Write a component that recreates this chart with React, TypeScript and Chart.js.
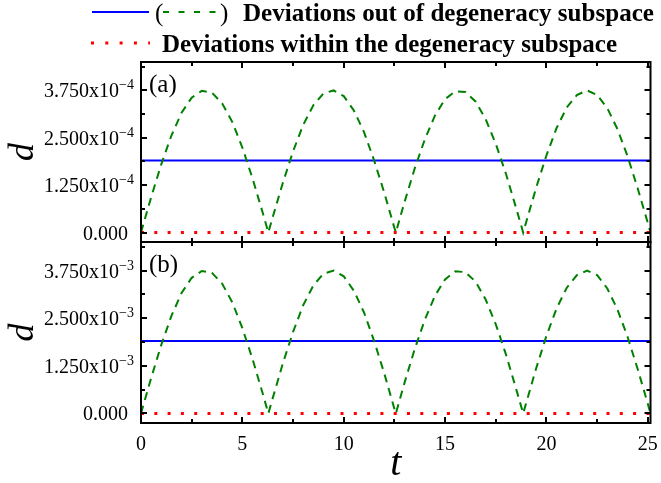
import React, { useEffect, useRef } from 'react';
import { Chart, registerables } from 'chart.js';

Chart.register(...registerables);

// time axis (one full run ends at t = 8π)
const T_END = 25.13;

// sample times for the oscillating deviation
const tValues = [
  0, 0.5, 1, 1.5, 2, 2.5, 3, 3.5, 4, 4.5, 5, 5.5, 6, 6.28,
  6.5, 7, 7.5, 8, 8.5, 9, 9.5, 10, 10.5, 11, 11.5, 12, 12.5, 12.57,
  13, 13.5, 14, 14.5, 15, 15.5, 16, 16.5, 17, 17.5, 18, 18.5, 18.85,
  19, 19.5, 20, 20.5, 21, 21.5, 22, 22.5, 23, 23.5, 24, 24.5, 25, 25.13,
];

// panel (a): deviations out of the degeneracy subspace, in units of 1e-4
const outOfSubspaceA = [
  0, 0.93, 1.8, 2.56, 3.16, 3.56, 3.74, 3.69, 3.41, 2.92, 2.24, 1.43, 0.53, 0,
  0.41, 1.32, 2.14, 2.84, 3.36, 3.67, 3.75, 3.6, 3.22, 2.65, 1.9, 1.05, 0.12, 0,
  0.81, 1.69, 2.46, 3.09, 3.52, 3.73, 3.71, 3.46, 2.99, 2.34, 1.55, 0.65, 0,
  0.28, 1.2, 2.04, 2.76, 3.3, 3.63, 3.75, 3.63, 3.28, 2.73, 2.01, 1.16, 0.25, 0,
];

// panel (b): deviations out of the degeneracy subspace, in units of 1e-3
const outOfSubspaceB = [
  0, 0.93, 1.8, 2.56, 3.16, 3.56, 3.74, 3.69, 3.41, 2.92, 2.24, 1.43, 0.53, 0,
  0.41, 1.32, 2.14, 2.84, 3.36, 3.67, 3.75, 3.6, 3.22, 2.65, 1.9, 1.05, 0.12, 0,
  0.81, 1.69, 2.46, 3.09, 3.52, 3.73, 3.71, 3.46, 2.99, 2.34, 1.55, 0.65, 0,
  0.28, 1.2, 2.04, 2.76, 3.3, 3.63, 3.75, 3.63, 3.28, 2.73, 2.01, 1.16, 0.25, 0,
];

// constant levels (same units as the panel)
const outLevelA = 1.9;
const outLevelB = 1.9;
const withinLevelA = 0;
const withinLevelB = 0;

// axis ticks
const xMajorTicks = [0, 5, 10, 15, 20, 25];
const xMinorTicks = [2.5, 7.5, 12.5, 17.5, 22.5];
const yMajorTicks = [0, 1.25, 2.5, 3.75];
const yMinorTicks = [0.625, 1.875, 3.125, 4.375];
const Y_MIN = -0.25;
const Y_MAX = 4.5;

const legendOut = 'Deviations out of degeneracy subspace';
const legendWithin = 'Deviations within the degeneracy subspace';

const SERIF = '"Liberation Serif", "Times New Roman", serif';

type PanelCfg = {
  tag: string;
  exponent: string;
  legend: boolean;
  xLabels: boolean;
};

function fmtMantissa(v: number) {
  return v.toFixed(3);
}

// draw a line of text starting at x and stretched to the given width
function fitText(ctx: CanvasRenderingContext2D, text: string, x: number, y: number, width: number) {
  const w = ctx.measureText(text).width;
  ctx.save();
  ctx.translate(x, y);
  ctx.scale(width / w, 1);
  ctx.textAlign = 'left';
  ctx.fillText(text, 0, 0);
  ctx.restore();
}

const framePlugin = {
  id: 'panelFrame',
  afterDraw(chart: any, _args: any, opts: PanelCfg) {
    const { ctx, chartArea: a, scales } = chart;
    const xs = scales.x;
    const ys = scales.y;
    ctx.save();
    ctx.strokeStyle = '#000';
    ctx.lineWidth = 2;
    ctx.strokeRect(a.left, a.top, a.right - a.left, a.bottom - a.top);

    // y ticks (inward, both sides)
    const yTick = (v: number, len: number) => {
      const py = Math.round(ys.getPixelForValue(v));
      ctx.beginPath();
      ctx.moveTo(a.left, py);
      ctx.lineTo(a.left + len, py);
      ctx.moveTo(a.right, py);
      ctx.lineTo(a.right - len, py);
      ctx.stroke();
    };
    yMajorTicks.forEach((v) => yTick(v, 6));
    yMinorTicks.forEach((v) => yTick(v, 4));

    // x ticks (inward, top and bottom)
    const xTick = (v: number, len: number) => {
      const px = Math.round(xs.getPixelForValue(v));
      ctx.beginPath();
      ctx.moveTo(px, a.bottom);
      ctx.lineTo(px, a.bottom - len);
      ctx.moveTo(px, a.top);
      ctx.lineTo(px, a.top + len);
      ctx.stroke();
    };
    xMajorTicks.forEach((v) => xTick(v, 6));
    xMinorTicks.forEach((v) => xTick(v, 4));

    // y tick labels with power-of-ten superscript
    ctx.fillStyle = '#000';
    ctx.textBaseline = 'alphabetic';
    yMajorTicks.forEach((v) => {
      const py = ys.getPixelForValue(v);
      ctx.textAlign = 'right';
      if (v === 0) {
        ctx.font = `20px ${SERIF}`;
        ctx.fillText('0.000', 128, py + 7);
      } else {
        ctx.font = `14px ${SERIF}`;
        const sup = opts.exponent;
        const supW = ctx.measureText(sup).width;
        ctx.fillText(sup, 134, py - 1);
        ctx.font = `20px ${SERIF}`;
        ctx.fillText(fmtMantissa(v) + 'x10', 134 - supW, py + 7);
      }
    });

    // y axis title
    const midY = (a.top + a.bottom) / 2;
    ctx.save();
    ctx.translate(33, midY);
    ctx.rotate(-Math.PI / 2);
    ctx.textAlign = 'center';
    ctx.font = `italic 36px ${SERIF}`;
    ctx.fillText('d', 0, 0);
    ctx.restore();

    // panel tag
    ctx.textAlign = 'left';
    ctx.font = `25px ${SERIF}`;
    ctx.fillText(opts.tag, a.left + 8, a.top + 30);

    if (opts.xLabels) {
      ctx.textAlign = 'center';
      ctx.font = `20px ${SERIF}`;
      xMajorTicks.forEach((v) => {
        ctx.fillText(String(v), xs.getPixelForValue(v), a.bottom + 27);
      });
      ctx.font = `italic 40px ${SERIF}`;
      ctx.fillText('t', (a.left + a.right) / 2, a.bottom + 52);
    }

    if (opts.legend) {
      ctx.lineWidth = 2;
      ctx.strokeStyle = '#0000ff';
      ctx.beginPath();
      ctx.moveTo(92, 12);
      ctx.lineTo(149, 12);
      ctx.stroke();

      ctx.textAlign = 'left';
      ctx.font = `25px ${SERIF}`;
      ctx.fillText('(', 155, 21);
      ctx.fillText(')', 220, 21);

      ctx.strokeStyle = '#008000';
      ctx.setLineDash([6, 9.5]);
      ctx.beginPath();
      ctx.moveTo(163, 12);
      ctx.lineTo(219, 12);
      ctx.stroke();

      ctx.strokeStyle = '#ff0000';
      ctx.lineWidth = 3;
      ctx.setLineDash([3, 11.3]);
      ctx.beginPath();
      ctx.moveTo(91, 43);
      ctx.lineTo(150, 43);
      ctx.stroke();
      ctx.setLineDash([]);

      ctx.font = `bold 25px ${SERIF}`;
      fitText(ctx, legendOut, 243, 21, 411);
      fitText(ctx, legendWithin, 162, 52, 455);
    }
    ctx.restore();
  },
};

function buildConfig(
  curve: number[],
  level: number,
  within: number,
  padTop: number,
  padBottom: number,
  panel: PanelCfg
): any {
  return {
    type: 'line',
    data: {
      datasets: [
        {
          data: tValues.map((t, i) => ({ x: t, y: curve[i] })),
          borderColor: '#008000',
          borderWidth: 2,
          borderDash: [8, 6],
          pointRadius: 0,
          tension: 0,
          fill: false,
        },
        {
          data: [
            { x: 0, y: level },
            { x: T_END, y: level },
          ],
          borderColor: '#0000ff',
          borderWidth: 2,
          pointRadius: 0,
          fill: false,
        },
        {
          data: [
            { x: 0, y: within },
            { x: T_END, y: within },
          ],
          borderColor: '#ff0000',
          borderWidth: 3,
          borderDash: [3, 10.3],
          pointRadius: 0,
          fill: false,
        },
      ],
    },
    options: {
      animation: false,
      responsive: false,
      events: [],
      layout: { padding: { left: 141, right: 10.5, top: padTop, bottom: padBottom } },
      scales: {
        x: { type: 'linear', min: 0, max: T_END, display: false },
        y: { type: 'linear', min: Y_MIN, max: Y_MAX, display: false },
      },
      plugins: {
        legend: { display: false },
        tooltip: { enabled: false },
        panelFrame: panel,
      },
    },
    plugins: [framePlugin],
  };
}

export default function App() {
  const refA = useRef<HTMLCanvasElement>(null);
  const refB = useRef<HTMLCanvasElement>(null);

  useEffect(() => {
    const a = new Chart(
      refA.current!,
      buildConfig(outOfSubspaceA, outLevelA, withinLevelA, 62, 241, {
        tag: '(a)',
        exponent: '\u22124',
        legend: true,
        xLabels: false,
      })
    );
    const b = new Chart(
      refB.current!,
      buildConfig(outOfSubspaceB, outLevelB, withinLevelB, 242, 60, {
        tag: '(b)',
        exponent: '\u22123',
        legend: false,
        xLabels: true,
      })
    );
    return () => {
      a.destroy();
      b.destroy();
    };
  }, []);

  const canvasStyle: React.CSSProperties = {
    position: 'absolute',
    left: 0,
    top: 0,
    width: 661,
    height: 483,
  };

  return (
    <div style={{ position: 'absolute', left: 0, top: 0, width: 661, height: 483, background: '#fff' }}>
      <canvas ref={refA} width={661} height={483} style={canvasStyle} />
      <canvas ref={refB} width={661} height={483} style={canvasStyle} />
    </div>
  );
}
